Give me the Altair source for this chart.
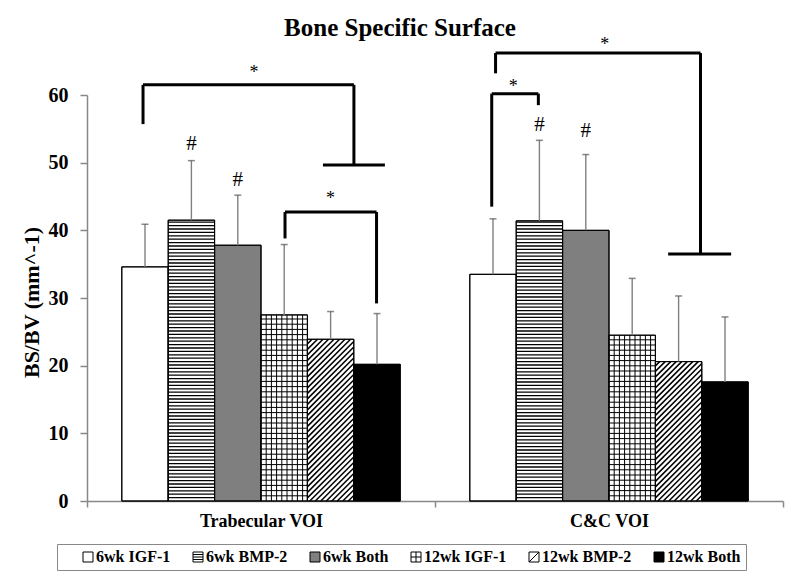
import altair as alt
import numpy as np
import pandas as pd

# ---------------- data ----------------
groups = ["Trabecular VOI", "C&C VOI"]
series = ["6wk IGF-1", "6wk BMP-2", "6wk Both", "12wk IGF-1", "12wk BMP-2", "12wk Both"]
trabecular_mean = [34.6, 41.5, 37.8, 27.5, 23.9, 20.2]
trabecular_sd = [6.3, 8.8, 7.4, 10.4, 4.1, 7.5]
cc_mean = [33.5, 41.4, 40.0, 24.5, 20.6, 17.6]
cc_sd = [8.2, 11.9, 11.2, 8.4, 9.7, 9.6]

fills = ["white", "white", "#7f7f7f", "white", "white", "black"]
patterns = ["", "hstripe", "", "grid", "diag", ""]

# significance brackets (x in category units: 0-1 Trabecular, 1-2 C&C)
br_left_x = [0.161, 0.569, 1.174, 1.163]
br_right_x = [0.767, 0.832, 1.763, 1.297]
br_top_y = [61.5, 42.7, 66.2, 60.2]
br_left_y = [55.7, 38.8, 63.2, 43.5]
br_right_y = [49.65, 29.2, 36.5, 58.5]
foot_x0 = [0.678, 1.670]
foot_x1 = [0.856, 1.851]
foot_y = [49.65, 36.5]
star_x = [0.480, 0.700, 1.488, 1.225]
star_y = [63.3, 44.6, 67.4, 61.2]
hash_group = [0, 0, 1, 1]
hash_series = [1, 2, 1, 2]
hash_y = [52.8, 47.4, 55.5, 54.7]

# ---------------- layout / style ----------------
W, H = 696, 406
Y_MAX, X_MAX = 60, 2
PAD = 0.1
BAR_W = (1 - 2 * PAD) / len(series)
PX_X = W / X_MAX
PX_Y = H / Y_MAX
FONT = "Liberation Serif"

means = [trabecular_mean, cc_mean]
sds = [trabecular_sd, cc_sd]

rows = []
for g, grp in enumerate(groups):
    for i, s in enumerate(series):
        x0 = g + PAD + i * BAR_W
        rows.append(dict(group=grp, series=s, x0=x0, x1=x0 + BAR_W, xc=x0 + BAR_W / 2,
                         value=means[g][i], upper=means[g][i] + sds[g][i], base=0,
                         fill=fills[i], pattern=patterns[i]))
bars_df = pd.DataFrame(rows)

# pattern line segments derived from bars
hs, gr, dg = [], [], []
for r in rows:
    if r["pattern"] == "hstripe":
        step = 3.4 / PX_Y
        for yy in np.arange(step, r["value"], step):
            hs.append(dict(x=r["x0"], x2=r["x1"], y=yy, y2=yy))
    elif r["pattern"] == "grid":
        sx, sy = 5.2 / PX_X, 5.2 / PX_Y
        for xx in np.arange(r["x0"] + sx, r["x1"] - sx * 0.3, sx):
            gr.append(dict(x=xx, x2=xx, y=0, y2=r["value"]))
        for yy in np.arange(sy, r["value"], sy):
            gr.append(dict(x=r["x0"], x2=r["x1"], y=yy, y2=yy))
    elif r["pattern"] == "diag":
        wb = BAR_W * PX_X
        hb = r["value"] * PX_Y
        step = 5.5
        for c in np.arange(-wb + step, hb, step):
            u0 = max(0.0, -c)
            u1 = min(wb, hb - c)
            if u1 > u0:
                dg.append(dict(x=r["x0"] + u0 / PX_X, x2=r["x0"] + u1 / PX_X,
                               y=(u0 + c) / PX_Y, y2=(u1 + c) / PX_Y))
hs_df, gr_df, dg_df = pd.DataFrame(hs), pd.DataFrame(gr), pd.DataFrame(dg)

seg = []
for k in range(len(br_left_x)):
    seg.append(dict(x=br_left_x[k], x2=br_left_x[k], y=br_left_y[k], y2=br_top_y[k]))
    seg.append(dict(x=br_left_x[k], x2=br_right_x[k], y=br_top_y[k], y2=br_top_y[k]))
    seg.append(dict(x=br_right_x[k], x2=br_right_x[k], y=br_top_y[k], y2=br_right_y[k]))
for k in range(len(foot_x0)):
    seg.append(dict(x=foot_x0[k], x2=foot_x1[k], y=foot_y[k], y2=foot_y[k]))
seg_df = pd.DataFrame(seg)

star_df = pd.DataFrame(dict(x=star_x, y=star_y, t=["*"] * len(star_x)))
hash_df = pd.DataFrame(dict(
    x=[g + PAD + (i + 0.5) * BAR_W for g, i in zip(hash_group, hash_series)],
    y=hash_y, t=["#"] * len(hash_y)))

sq = "M-1,-1H1V1H-1Z"
legend_paths = [sq, sq + "M-1,-0.5H1M-1,0H1M-1,0.5H1", sq, sq + "M-1,0H1M0,-1V1",
                sq + "M-1,1L1,-1", sq]

XS = alt.Scale(domain=[0, X_MAX], nice=False, zero=False)
YS = alt.Scale(domain=[0, Y_MAX], nice=False)

x_axis = alt.Axis(
    values=[0, 0.5, 1, 1.5, 2],
    labelExpr="datum.value == 0.5 ? 'Trabecular VOI' : datum.value == 1.5 ? 'C&C VOI' : ''",
    title=None, grid=False, domainColor="#888888", domainWidth=1.5,
    tickColor={"condition": {"test": "datum.value == 0.5 || datum.value == 1.5",
                             "value": "transparent"}, "value": "#888888"},
    tickSize=6, tickWidth=1.5, labelFont=FONT, labelFontSize=18, labelFontWeight="bold",
    labelColor="black", labelPadding=5, labelFlush=False, labelOverlap=False)
y_axis = alt.Axis(
    values=[0, 10, 20, 30, 40, 50, 60], format="d", grid=False,
    domainColor="#888888", domainWidth=1.5, tickColor="#888888", tickSize=7, tickWidth=1.5,
    labelFont=FONT, labelFontSize=20, labelFontWeight="bold", labelColor="black",
    labelPadding=12, title="BS/BV (mm^-1)", titleFont=FONT, titleFontSize=22,
    titleFontWeight="bold", titleColor="black", titlePadding=5, titleY=207)


def X(field):
    return alt.X(field, scale=XS, axis=x_axis)


def Y(field):
    return alt.Y(field, scale=YS, axis=y_axis)


bars = alt.Chart(bars_df).mark_rect(stroke="black", strokeWidth=1).encode(
    x=X("x0:Q"), x2="x1:Q", y=Y("value:Q"), y2="base:Q",
    fill=alt.Fill("fill:N", scale=None))


def rules(df, width, color="black"):
    return alt.Chart(df).mark_rule(color=color, strokeWidth=width).encode(
        x=X("x:Q"), x2="x2:Q", y=Y("y:Q"), y2="y2:Q")


stripes = rules(hs_df, 1.3)
grid = rules(gr_df, 1.0)
diag = rules(dg_df, 1.5)

outline = alt.Chart(bars_df).mark_rect(filled=False, stroke="black", strokeWidth=1).encode(
    x=X("x0:Q"), x2="x1:Q", y=Y("value:Q"), y2="base:Q")

err = alt.Chart(bars_df).mark_rule(color="#808080", strokeWidth=1.4).encode(
    x=X("xc:Q"), y=Y("value:Q"), y2="upper:Q")
caps = alt.Chart(bars_df).mark_tick(orient="horizontal", size=7, thickness=1.5,
                                    color="#555555").encode(
    x=X("xc:Q"), y=Y("upper:Q"))

brackets = rules(seg_df, 3)

stars = alt.Chart(star_df).mark_text(font=FONT, fontSize=18, color="black",
                                     baseline="middle").encode(
    x=X("x:Q"), y=Y("y:Q"), text="t:N")
hashes = alt.Chart(hash_df).mark_text(font=FONT, fontSize=21, color="black",
                                      baseline="middle").encode(
    x=X("x:Q"), y=Y("y:Q"), text="t:N")

legend = alt.Legend(
    orient="none", legendX=-30, legendY=449, direction="horizontal", columns=6,
    title=None, labelFont=FONT, labelFontSize=16, labelFontWeight="bold",
    labelColor="black", symbolSize=100, symbolStrokeWidth=1, symbolOpacity=1,
    strokeColor="#888888", padding=5, columnPadding=1, labelOffset=0, symbolOffset=18)

legend_pts = alt.Chart(bars_df).mark_point(filled=True, opacity=0).encode(
    x=X("xc:Q"), y=Y("base:Q"),
    fill=alt.Fill("series:N", scale=alt.Scale(domain=series, range=fills), legend=legend),
    stroke=alt.Stroke("series:N", scale=alt.Scale(domain=series, range=["black"] * 6),
                      legend=legend),
    shape=alt.Shape("series:N", scale=alt.Scale(domain=series, range=legend_paths),
                    legend=legend))

chart = alt.layer(bars, stripes, grid, diag, outline, err, caps, brackets, stars, hashes,
                  legend_pts).properties(
    width=W, height=H,
    title=alt.Title("Bone Specific Surface", font=FONT, fontSize=25, fontWeight="bold",
                    color="black", anchor="middle", frame="group", offset=-5, dx=-35),
    autosize=alt.AutoSizeParams(type="none"),
    padding={"left": 79, "top": 87, "right": 9, "bottom": 70},
).configure_view(stroke=None)

chart.save("out.html", embed_options={"renderer": "svg", "actions": False})
